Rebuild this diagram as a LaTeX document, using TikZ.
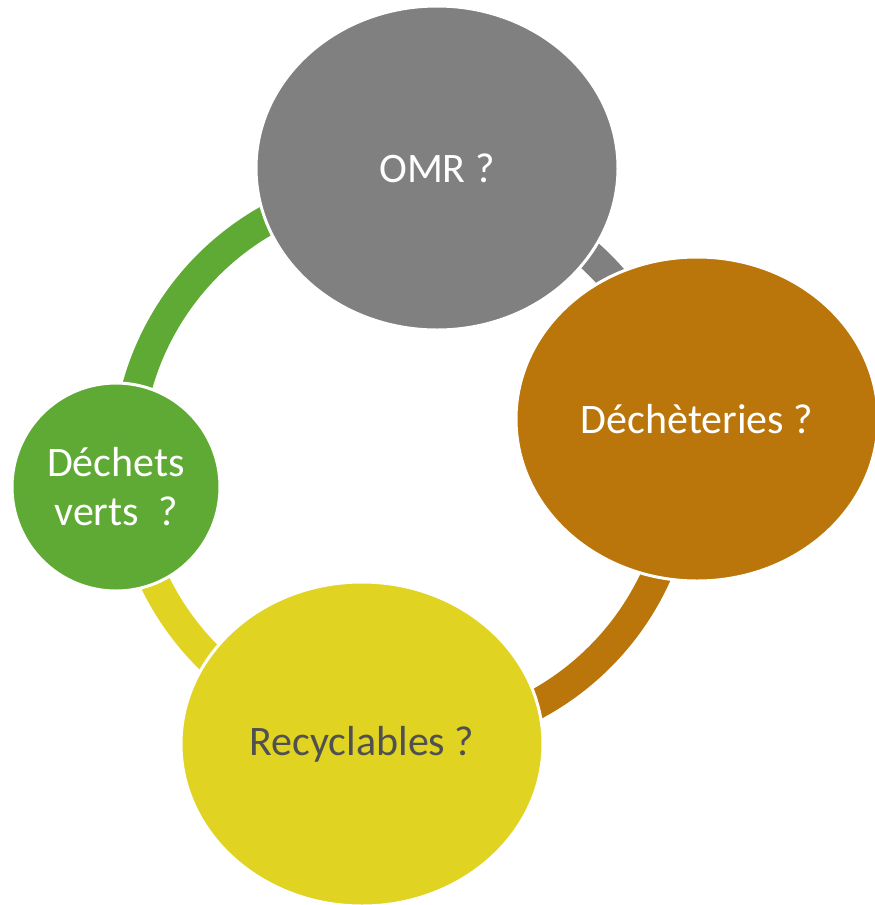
\documentclass[tikz,border=0pt]{standalone}
\usepackage{fontspec}
\setmainfont{Carlito}
\usetikzlibrary{shapes.geometric}

\definecolor{omrgray}{HTML}{808080}
\definecolor{dechbrown}{HTML}{BA760A}
\definecolor{recyellow}{HTML}{E1D321}
\definecolor{vertgreen}{HTML}{5FAA34}
\definecolor{recytext}{HTML}{505050}

\begin{document}
\begin{tikzpicture}[x=0.5pt, y=-0.5pt,
  bubble/.style={ellipse, fill=#1, draw=white, line width=1.5pt, inner sep=0pt,
    align=center, font=\fontsize{21}{24.5}\selectfont},
  bigbubble/.style={bubble=#1, minimum width=181pt, minimum height=162pt},
  ringarc/.style={line width=15pt, draw=#1}]

\useasboundingbox (0,0) rectangle (874,905);

\coordinate (hub) at (404,461);

\draw[ringarc=omrgray] (hub) ++(-83.2:277) arc[start angle=-83.2, end angle=-8.3, radius=277];
\draw[ringarc=dechbrown] (hub) ++(-8.3:277) arc[start angle=-8.3, end angle=98.1, radius=277];
\draw[ringarc=recyellow] (hub) ++(98.1:277) arc[start angle=98.1, end angle=175, radius=277];
\draw[ringarc=vertgreen] (hub) ++(175:277) arc[start angle=175, end angle=276.8, radius=277];

\node[bigbubble=omrgray, text=white] (omr) at (437,168) {OMR ?};
\node[bigbubble=dechbrown, text=white] (dech) at (697,419) {Déchèteries ?};
\node[bigbubble=recyellow, text=recytext] (recy) at (362,744) {Recyclables ?};
\node[bubble=vertgreen, text=white, minimum width=104pt, minimum height=104pt] (vert) at (116,487) {Déchets\\verts~~?};

\end{tikzpicture}
\end{document}
